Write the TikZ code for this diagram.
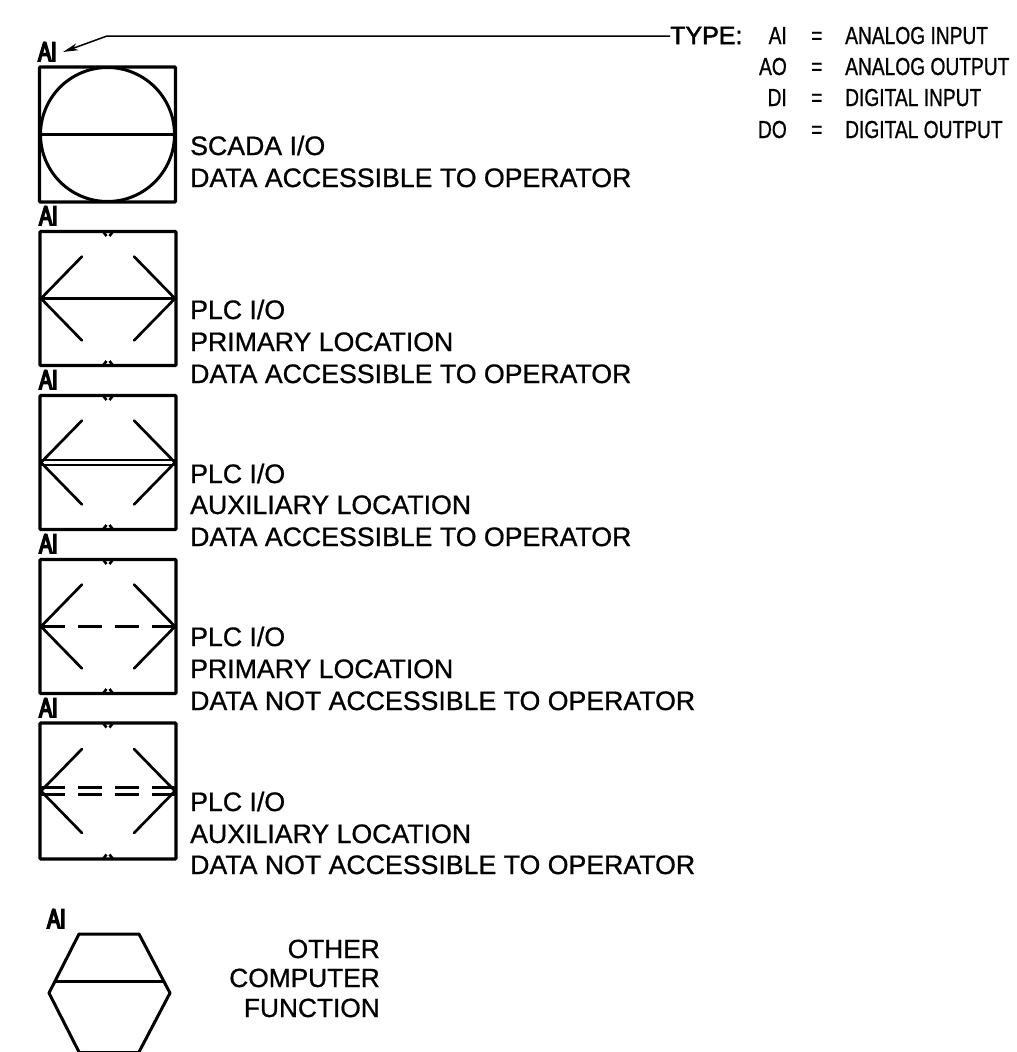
\documentclass[tikz,border=0pt]{standalone}
\usepackage{fontspec}
\setmainfont[FakeBold=0.8]{Liberation Sans}
\newfontfamily\typefont[FakeBold=2]{Liberation Sans}
\newfontfamily\narrowfont[FakeStretch=0.78,FakeBold=0.8]{Liberation Sans}
\newfontfamily\tagfont[FakeStretch=0.72,FakeBold=6]{Liberation Sans}
\usetikzlibrary{calc,arrows.meta}
\tikzset{
  ink/.style={line width=2.7pt,black,line cap=round,line join=round},
  iobox/.style={draw,line width=3.2pt,rounded corners=1pt,minimum width=136pt,minimum height=134pt,inner sep=0pt,outer sep=0pt},
  lab/.style={anchor=base west,inner sep=0pt,font=\fontsize{26.7}{26.7}\selectfont},
  otherlab/.style={anchor=base east,inner sep=0pt,font=\fontsize{26.3}{26.3}\selectfont},
  legend/.style={anchor=base west,inner sep=0pt,font=\narrowfont\fontsize{24.6}{24.6}\selectfont},
  legendr/.style={anchor=base east,inner sep=0pt,font=\narrowfont\fontsize{24.6}{24.6}\selectfont},
  tag/.style={anchor=base west,inner sep=0pt,font=\tagfont\fontsize{27}{27}\selectfont},
  hex/.style={line width=3pt,line join=round},
  tick/.style={line width=2.6pt},
}
\newcommand{\plcmarks}[1]{%
  \draw[ink] ($(#1.west)+(1,0)$) -- ($(#1.west)+(42,-42)$);
  \draw[ink] ($(#1.west)+(1,0)$) -- ($(#1.west)+(42,42)$);
  \draw[ink] ($(#1.east)+(-1,0)$) -- ($(#1.east)+(-42,-42)$);
  \draw[ink] ($(#1.east)+(-1,0)$) -- ($(#1.east)+(-42,42)$);
  \draw[tick] ($(#1.north)+(-5,0)$) -- ($(#1.north)+(-1.5,4.5)$);
  \draw[tick] ($(#1.north)+(5,0)$) -- ($(#1.north)+(1.5,4.5)$);
  \draw[tick] ($(#1.south)+(-5,0)$) -- ($(#1.south)+(-1.5,-4.5)$);
  \draw[tick] ($(#1.south)+(5,0)$) -- ($(#1.south)+(1.5,-4.5)$);
}
\begin{document}
\begin{tikzpicture}[x=1pt,y=-1pt]
\useasboundingbox (0,0) rectangle (1017,1052);
% legend
\node[lab,font=\typefont\fontsize{25}{25}\selectfont] (type) at (670,44) {TYPE:};
\node[legendr] (ai0) at (787,44) {AI};
\node[legendr] (ao) at (787,75) {AO};
\node[legendr] (di) at (787,106) {DI};
\node[legendr] (do) at (787,138) {DO};
\node[legend] (e1) at (811,44) {=};
\node[legend] (e2) at (811,75) {=};
\node[legend] (e3) at (811,106) {=};
\node[legend] (e4) at (811,138) {=};
\node[legend] (t1) at (845,44) {ANALOG INPUT};
\node[legend] (t2) at (845,75) {ANALOG OUTPUT};
\node[legend] (t3) at (845,106) {DIGITAL INPUT};
\node[legend] (t4) at (845,138) {DIGITAL OUTPUT};
% tags
\node[tag] (a1) at (38,61) {AI};
\node[tag] (a2) at (39,225) {AI};
\node[tag] (a3) at (39,389) {AI};
\node[tag] (a4) at (39,553) {AI};
\node[tag] (a5) at (39,717) {AI};
\node[tag] (a6) at (47,928) {AI};
% leader
\coordinate (bend) at (107,36);
\coordinate (tip) at (63,52);
\draw[line width=1.5pt,-{Stealth[length=15pt,width=7pt,inset=4pt]}] (type.west |- 0,36) -- (bend) -- (tip);
% box 1
\node[iobox,minimum height=135pt] (b1) at (107.5,134.5) {};
\node[draw,circle,line width=3pt,minimum size=134pt,inner sep=0pt,outer sep=0pt] (c1) at (b1.center) {};
\draw[ink] (b1.west) -- (b1.east);
% box 2
\node[iobox] (b2) at (108,298.5) {};
\plcmarks{b2}
\draw[ink,line width=3pt] (b2.west) -- (b2.east);
% box 3
\node[iobox] (b3) at (108,462.5) {};
\plcmarks{b3}
\draw[ink,line width=2.4pt] ($(b3.west)+(0,-2.3)$) -- ($(b3.east)+(0,-2.3)$);
\draw[ink,line width=2.4pt] ($(b3.west)+(0,2.3)$) -- ($(b3.east)+(0,2.3)$);
% box 4
\node[iobox] (b4) at (108,626.5) {};
\plcmarks{b4}
\draw[line width=3pt,dash pattern=on 23.5pt off 13.5pt] ($(b4.west)+(1,0)$) -- (b4.east);
% box 5
\node[iobox,minimum height=136pt] (b5) at (108,791) {};
\plcmarks{b5}
\draw[line width=2.6pt,dash pattern=on 23.5pt off 13.5pt] ($(b5.west)+(1,-3.5)$) -- ($(b5.east)+(0,-3.5)$);
\draw[line width=2.6pt,dash pattern=on 23.5pt off 13.5pt] ($(b5.west)+(1,3.5)$) -- ($(b5.east)+(0,3.5)$);
% hexagon
\coordinate (h1) at (79,934);
\coordinate (h2) at (139,934);
\coordinate (h3) at (170,993);
\coordinate (h4) at (139,1052);
\coordinate (h5) at (79,1052);
\coordinate (h6) at (49,993);
\draw[hex] (h5) -- (h6) -- (h1) -- (h2) -- (h3) -- (h4);
\draw[hex,line width=1.8pt] (h5) -- (h4);
\draw[hex] ($(h6)!0.2!(h1)$) -- ($(h3)!0.2!(h2)$);
% texts
\node[lab] (l11) at (190,155) {SCADA I/O};
\node[lab] (l12) at (190,187) {DATA ACCESSIBLE TO OPERATOR};
\node[lab] (l21) at (190,319) {PLC I/O};
\node[lab] (l22) at (190,351) {PRIMARY LOCATION};
\node[lab] (l23) at (190,383) {DATA ACCESSIBLE TO OPERATOR};
\node[lab] (l31) at (190,483) {PLC I/O};
\node[lab] (l32) at (190,514) {AUXILIARY LOCATION};
\node[lab] (l33) at (190,546) {DATA ACCESSIBLE TO OPERATOR};
\node[lab] (l41) at (190,646) {PLC I/O};
\node[lab] (l42) at (190,678) {PRIMARY LOCATION};
\node[lab] (l43) at (190,710) {DATA NOT ACCESSIBLE TO OPERATOR};
\node[lab] (l51) at (190,811) {PLC I/O};
\node[lab] (l52) at (190,843) {AUXILIARY LOCATION};
\node[lab] (l53) at (190,874) {DATA NOT ACCESSIBLE TO OPERATOR};
\node[otherlab] (o1) at (380,958) {OTHER};
\node[otherlab] (o2) at (380,987) {COMPUTER};
\node[otherlab] (o3) at (380,1017) {FUNCTION};
\end{tikzpicture}
\end{document}
